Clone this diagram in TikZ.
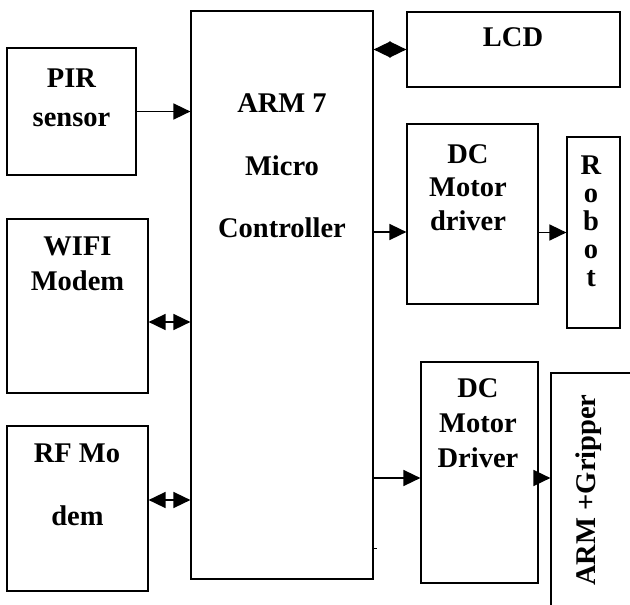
\documentclass[tikz,border=0pt]{standalone}
\usepackage{fontspec}
\setmainfont{Liberation Serif}
\usetikzlibrary{arrows.meta}
\begin{document}
\begin{tikzpicture}[x=1pt,y=-1pt,
  box/.style={draw,line width=1.2pt,inner sep=0pt,rectangle},
  lbl/.style={font=\fontsize{28.5}{30}\selectfont\bfseries,anchor=base,inner sep=0pt},
  arr/.style={line width=1.6pt,-{Triangle[length=17pt,width=16pt]}},
  darr/.style={line width=1.6pt,{Triangle[length=17pt,width=16pt]}-{Triangle[length=17pt,width=16pt]}}]
\path[use as bounding box,clip] (0,0) rectangle (630,605);
% boxes
\node[box,minimum width=129pt,minimum height=127pt] (pir) at (71.5,111.5) {};
\node[box,minimum width=182pt,minimum height=568pt] (arm) at (282,295) {};
\node[box,minimum width=141pt,minimum height=174pt] (wifi) at (77.5,306) {};
\node[box,minimum width=141pt,minimum height=165pt] (rf) at (77.5,508.5) {};
\node[box,minimum width=213pt,minimum height=75pt] (lcd) at (513.5,49.5) {};
\node[box,minimum width=131pt,minimum height=180pt] (dc1) at (472.5,214) {};
\node[box,minimum width=53pt,minimum height=191pt] (robot) at (593.5,232.5) {};
\node[box,minimum width=117pt,minimum height=221pt] (dc2) at (479.5,472.5) {};
\node[box,minimum width=99pt,minimum height=252pt] (grip) at (600.5,499) {};
% texts
\node[lbl] (t1) at (71.5,87) {PIR};
\node[lbl] (t2) at (71.5,126) {sensor};
\node[lbl] (t3) at (282,112) {ARM 7};
\node[lbl] (t4) at (282,175) {Micro};
\node[lbl] (t5) at (282,237) {Controller};
\node[lbl] (t6) at (513,46) {LCD};
\node[lbl] (t7) at (468,163) {DC};
\node[lbl] (t8) at (468,196) {Motor};
\node[lbl] (t9) at (468,230) {driver};
\node[lbl] (r1) at (591,174) {R};
\node[lbl] (r2) at (591,202) {o};
\node[lbl] (r3) at (591,230) {b};
\node[lbl] (r4) at (591,258) {o};
\node[lbl] (r5) at (591,286) {t};
\node[lbl] (t10) at (77.5,255) {WIFI};
\node[lbl] (t11) at (77.5,290) {Modem};
\node[lbl] (t12) at (77,462) {RF Mo};
\node[lbl] (t13) at (77.5,525) {dem};
\node[lbl] (t14) at (478,397) {DC};
\node[lbl] (t15) at (478,432) {Motor};
\node[lbl] (t16) at (478,467) {Driver};
\node[lbl,rotate=90] (t17) at (595,490) {ARM +Gripper};
% connectors
\coordinate (yd1) at (0,232);
\coordinate (yw) at (0,322);
\coordinate (yr) at (0,500);
\coordinate (yd2) at (0,478);
\coordinate (tick) at (0,548);
\draw[arr] (pir.east) -- (pir.east -| arm.west);
\draw[darr] (lcd.west) -- (lcd.west -| arm.east);
\draw[arr] (yd1 -| arm.east) -- (yd1 -| dc1.west);
\draw[arr] (robot.west -| dc1.east) -- (robot.west);
\draw[darr] (yw -| wifi.east) -- (yw -| arm.west);
\draw[darr] (yr -| rf.east) -- (yr -| arm.west);
\draw[arr] (yd2 -| arm.east) -- (yd2 -| dc2.west);
\draw[arr] (yd2 -| dc2.east) -- (yd2 -| grip.west);
\draw[line width=0.8pt] (tick -| arm.east) -- ++(3,0);
\end{tikzpicture}
\end{document}
